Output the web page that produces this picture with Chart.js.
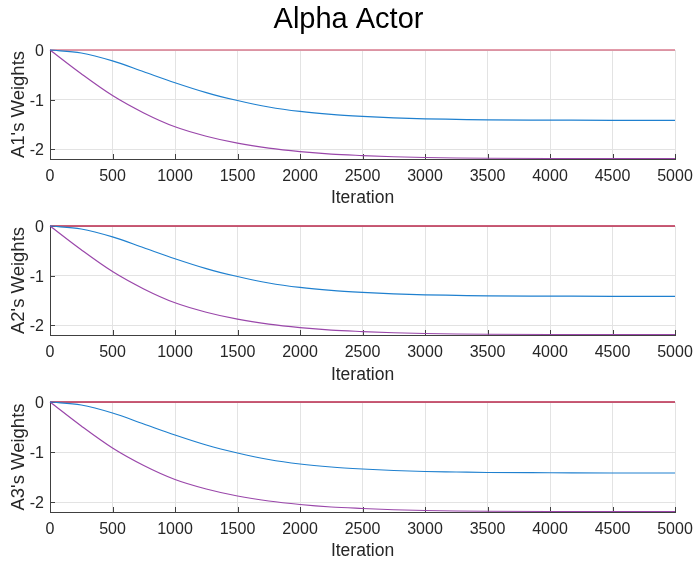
<!DOCTYPE html>
<html>
<head>
<meta charset="utf-8">
<title>Alpha Actor</title>
<script src="https://cdn.jsdelivr.net/npm/chart.js@4.4.1/dist/chart.umd.min.js"></script>
<style>
  body { margin: 0; background: #fff; }
  #wrap { position: relative; width: 697px; height: 563px; }
  #wrap canvas { position: absolute; left: 0; }
</style>
</head>
<body>
<div id="wrap">
  <canvas id="plot1" width="697" height="209" style="top:0px"></canvas>
  <canvas id="plot2" width="697" height="179" style="top:207px"></canvas>
  <canvas id="plot3" width="697" height="178" style="top:384px"></canvas>
</div>
<script>
// iteration samples and the three weight traces of each actor
const iterations = [0, 250, 500, 750, 1000, 1250, 1500, 1750, 2000, 2250, 2500, 2750, 3000, 3250, 3500, 4000, 4500, 5000];
const weightBlue = [0, -0.06, -0.22, -0.44, -0.66, -0.86, -1.02, -1.15, -1.24, -1.30, -1.34, -1.37, -1.39, -1.40, -1.41, -1.415, -1.42, -1.42];
const weightPurple = [0, -0.48, -0.92, -1.27, -1.55, -1.74, -1.88, -1.98, -2.05, -2.10, -2.13, -2.155, -2.17, -2.18, -2.185, -2.19, -2.19, -2.19];
const weightRed = [0, 0, 0, 0, 0, 0, 0, 0, 0, 0, 0, 0, 0, 0, 0, 0, 0, 0];

const xTicks = [0, 500, 1000, 1500, 2000, 2500, 3000, 3500, 4000, 4500, 5000];
const yTicks = [-2, -1, 0];

Chart.defaults.font.family = "'Liberation Sans', Arial, Helvetica, sans-serif";

const axisColor = '#404040';
const textColor = '#262626';
const gridColor = '#e3e3e3';

// matlab style ticks pointing into the plot
const innerTicks = {
    id: 'innerTicks',
    beforeDatasetsDraw(chart) {
        const { ctx, chartArea, scales: { x, y } } = chart;
        ctx.save();
        ctx.strokeStyle = axisColor;
        ctx.lineWidth = 1;
        ctx.beginPath();
        xTicks.forEach(v => {
            const px = Math.round(x.getPixelForValue(v)) + 0.5;
            ctx.moveTo(px, chartArea.bottom);
            ctx.lineTo(px, chartArea.bottom - 5);
        });
        yTicks.forEach(v => {
            const py = Math.round(y.getPixelForValue(v)) + 0.5;
            ctx.moveTo(chartArea.left, py);
            ctx.lineTo(chartArea.left + 5, py);
        });
        ctx.stroke();
        ctx.restore();
    }
};

const toPoints = (vals) => iterations.map((it, i) => ({ x: it, y: vals[i] }));

const makeChart = (id, yLabel, redColor, showTitle, padTop, xHeight) => {
    const line = (vals, color, width) => ({
        data: toPoints(vals),
        borderColor: color,
        borderWidth: width,
        pointRadius: 0,
        fill: false,
        clip: 3,
        cubicInterpolationMode: 'monotone'
    });

    return new Chart(document.getElementById(id), {
        type: 'line',
        data: {
            datasets: [
                line(weightBlue, '#1f80cf', 1.2),
                line(weightPurple, '#9a47aa', 1.2),
                line(weightRed, redColor, 1.5)
            ]
        },
        options: {
            responsive: false,
            animation: false,
            events: [],
            layout: { padding: { top: padTop, right: 0, bottom: 0, left: 0 } },
            plugins: {
                legend: { display: false },
                tooltip: { enabled: false },
                title: {
                    display: showTitle,
                    text: 'Alpha Actor',
                    color: '#000',
                    font: { size: 29, weight: 'normal' },
                    padding: { top: 3, bottom: 12.2 }
                }
            },
            scales: {
                x: {
                    type: 'linear',
                    min: 0,
                    max: 5000,
                    afterBuildTicks: s => { s.ticks = xTicks.map(v => ({ value: v })); },
                    afterFit: s => { s.height = xHeight; s.paddingRight = 22; },
                    ticks: {
                        color: textColor, font: { size: 16 }, padding: 8, maxRotation: 0, autoSkip: false,
                        callback: v => String(v)
                    },
                    grid: { color: gridColor, drawTicks: false },
                    border: { color: axisColor, width: 1 },
                    title: { display: true, text: 'Iteration', color: textColor, font: { size: 17.5 }, padding: 0 }
                },
                y: {
                    min: -2.2,
                    max: 0,
                    afterBuildTicks: s => { s.ticks = yTicks.map(v => ({ value: v })); },
                    afterFit: s => { s.width = 50; },
                    ticks: { color: textColor, font: { size: 16 }, padding: 6, labelOffset: 2, callback: v => String(v) },
                    grid: { color: gridColor, drawTicks: false },
                    border: { color: axisColor, width: 1 },
                    title: { display: true, text: yLabel, color: textColor, font: { size: 18.5 }, padding: { top: 8, bottom: 0 } }
                }
            }
        },
        plugins: [innerTicks]
    });
};

makeChart('plot1', "A1's Weights", '#d97a8e', true, 0, 50);
makeChart('plot2', "A2's Weights", '#b8264a', false, 19, 51);
makeChart('plot3', "A3's Weights", '#b8264a', false, 18, 50);
</script>
</body>
</html>
